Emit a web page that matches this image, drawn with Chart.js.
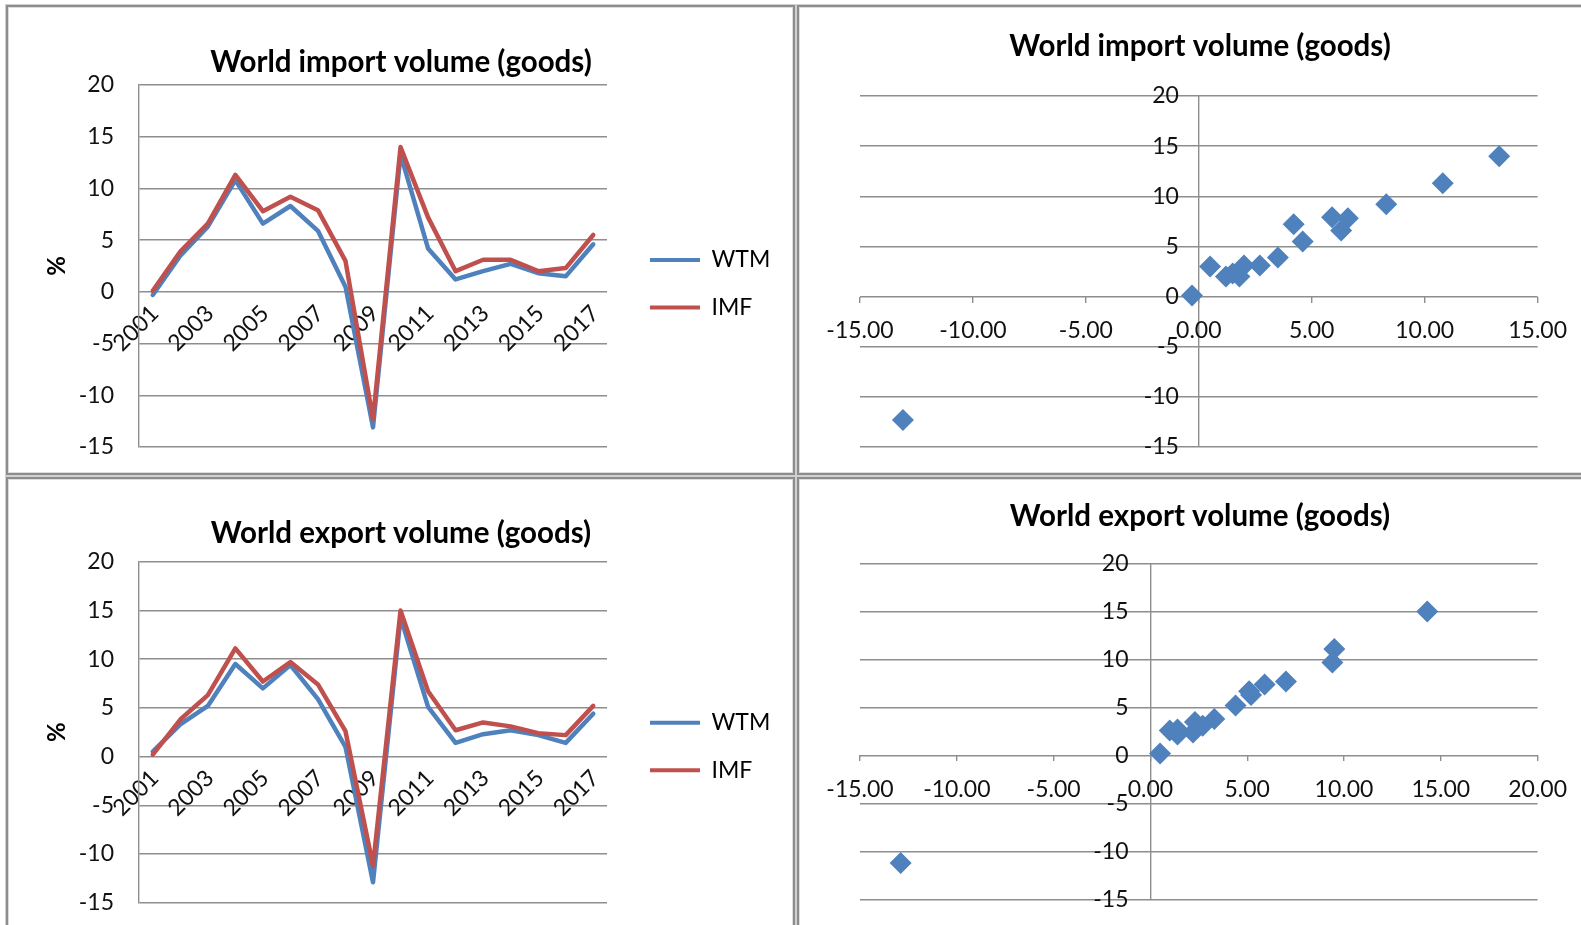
<!DOCTYPE html>
<html>
<head>
<meta charset="utf-8">
<title>World trade volume: WTM vs IMF</title>
<script src="https://cdn.jsdelivr.net/npm/chart.js@4.4.1/dist/chart.umd.min.js"></script>
<style>
  html, body { margin: 0; padding: 0; background: #fff; overflow: hidden; }
  body { width: 1581px; height: 925px; position: relative; }
  .panel { position: absolute; box-sizing: border-box; border: 2px solid #8d8d8d; box-shadow: inset 0 0 0 1px #dcdcdc, 0 0 0 1px #d0d0d0; background: #fff; }
  canvas { position: absolute; z-index: 2; }
</style>
</head>
<body>
<div class="panel" style="left:6px;top:5px;width:789px;height:470px"></div>
<div class="panel" style="left:797px;top:5px;width:900px;height:470px"></div>
<div class="panel" style="left:6px;top:477px;width:789px;height:600px"></div>
<div class="panel" style="left:797px;top:477px;width:900px;height:600px"></div>

<canvas id="importLine" width="784" height="466" style="left:9px;top:7px"></canvas>
<canvas id="importScatter" width="782" height="466" style="left:799px;top:7px"></canvas>
<canvas id="exportLine" width="784" height="446" style="left:9px;top:479px"></canvas>
<canvas id="exportScatter" width="782" height="446" style="left:799px;top:479px"></canvas>

<script>
// Annual growth, %, 2001-2017
const years = ['2001', '2002', '2003', '2004', '2005', '2006', '2007', '2008', '2009',
               '2010', '2011', '2012', '2013', '2014', '2015', '2016', '2017'];

const importWTM = [-0.3, 3.5, 6.3, 10.8, 6.6, 8.3, 5.9, 0.5, -13.1, 13.3, 4.2, 1.2, 2.0, 2.7, 1.8, 1.5, 4.6];
const importIMF = [0.1, 3.9, 6.6, 11.3, 7.8, 9.2, 7.9, 3.0, -12.3, 14.0, 7.2, 2.0, 3.1, 3.1, 2.0, 2.3, 5.5];

const exportWTM = [0.5, 3.3, 5.2, 9.5, 7.0, 9.4, 5.9, 1.0, -12.9, 14.3, 5.1, 1.4, 2.3, 2.7, 2.2, 1.4, 4.4];
const exportIMF = [0.2, 3.8, 6.3, 11.1, 7.7, 9.7, 7.4, 2.6, -11.2, 15.0, 6.7, 2.7, 3.5, 3.1, 2.4, 2.2, 5.2];

// Axis ranges
const pctMin = -15, pctMax = 20, pctStep = 5;
const importXMax = 15;
const exportXMax = 20;

const seriesNames = ['WTM', 'IMF'];

// Styling
const FAMILY = 'Lato, "Liberation Sans", Arial, sans-serif';
const BLUE = '#4F81BD';
const RED = '#C0504D';
const GRID = '#8e8e8e';
const TEXT = '#111';
const TICK_SIZE = 23;
const TITLE_SIZE = 29.5;
const LEGEND = { size: 23, box: 50, padding: 24.5, gap: 18.5 };

Chart.defaults.font.family = FAMILY;
Chart.defaults.color = TEXT;

function textWidth(str, font) {
  const ctx = document.createElement('canvas').getContext('2d');
  ctx.font = font;
  return ctx.measureText(str).width;
}

// Width the built-in vertical legend takes for our two entries
const legendWidth = LEGEND.padding + LEGEND.box + LEGEND.size / 2 + 10 +
  Math.max(...seriesNames.map((s) => textWidth(s, LEGEND.size + 'px ' + FAMILY)));

function titleOpts(text, top, bottom) {
  return {
    display: true, text: text, color: '#000',
    font: { family: FAMILY, size: TITLE_SIZE, weight: 'bold' },
    padding: { top: top, bottom: bottom }
  };
}

function lineChart(id, title, wtm, imf, g) {
  const canvas = document.getElementById(id);
  // keep the title centred on the canvas: equal side paddings
  const side = canvas.width - g.plotRight - LEGEND.gap - legendWidth;
  return new Chart(canvas, {
    type: 'line',
    data: {
      labels: years,
      datasets: [
        { label: seriesNames[0], data: wtm, borderColor: BLUE, backgroundColor: BLUE, borderWidth: 4.5,
          pointRadius: 0, tension: 0, order: 1, yAxisID: 'y', borderJoinStyle: 'round', borderCapStyle: 'round' },
        { label: seriesNames[1], data: imf, borderColor: RED, backgroundColor: RED, borderWidth: 4.5,
          pointRadius: 0, tension: 0, order: 0, yAxisID: 'y', borderJoinStyle: 'round', borderCapStyle: 'round' }
      ]
    },
    options: {
      responsive: false, animation: false, devicePixelRatio: 1,
      layout: { padding: { top: 0, left: side, right: side, bottom: g.padBottom } },
      plugins: {
        tooltip: { enabled: false },
        title: titleOpts(title, g.titleTop, g.titleBottom),
        legend: {
          position: 'right', fullSize: false, align: 'center', maxWidth: 400,
          title: { display: true, text: '', font: { size: 12 }, padding: { top: g.legendShift, bottom: 0 } },
          labels: {
            boxWidth: LEGEND.box, boxHeight: 4, padding: LEGEND.padding, color: '#000',
            font: { family: FAMILY, size: LEGEND.size },
            generateLabels: (chart) => chart.data.datasets.map((ds, i) => ({
              text: ds.label, fillStyle: ds.borderColor, strokeStyle: ds.borderColor,
              lineWidth: 0, hidden: false, datasetIndex: i, fontColor: '#000'
            }))
          }
        }
      },
      scales: {
        x: {
          type: 'category', offset: true, position: { y: 0 },
          grid: { display: false, drawTicks: false },
          border: { display: false },
          ticks: {
            autoSkip: false, minRotation: 45, maxRotation: 45, padding: 8, labelOffset: 2, color: TEXT,
            font: { family: FAMILY, size: TICK_SIZE },
            callback: (value, index) => (index % 2 === 0 ? years[index] : '')
          }
        },
        y: {
          min: pctMin, max: pctMax,
          ticks: { stepSize: pctStep, padding: 0, color: TEXT, font: { family: FAMILY, size: TICK_SIZE } },
          grid: { color: GRID, lineWidth: 1.4, drawTicks: true, tickLength: 25, tickColor: 'rgba(0,0,0,0)' },
          border: { display: true, color: GRID, width: 1.4 },
          title: {
            display: true, text: '%', color: '#000',
            font: { family: FAMILY, size: 24, weight: 'bold' },
            padding: { top: g.pctCenter - side - 14.4, bottom: 0 }
          },
          afterFit: (s) => { s.width = g.plotLeft - side; }
        },
        legendGap: {
          type: 'linear', axis: 'y', position: 'right', display: true,
          grid: { display: false, drawTicks: false }, border: { display: false }, ticks: { display: false },
          afterFit: (s) => { s.width = LEGEND.gap; }
        }
      }
    }
  });
}

function scatterChart(id, title, xs, ys, xMax, g) {
  const points = xs.map((x, i) => ({ x: x, y: ys[i] }));
  const plotWidth = 680;
  // value-axis labels sit a little left of the vertical zero line
  const labelAnchor = -g.labelGap * (xMax - pctMin) / plotWidth;
  return new Chart(document.getElementById(id), {
    type: 'scatter',
    data: {
      datasets: [{
        data: points, pointStyle: 'rectRot', pointRadius: 11, pointHoverRadius: 11,
        backgroundColor: BLUE, borderColor: '#4A7EBB', borderWidth: 0
      }]
    },
    options: {
      responsive: false, animation: false, devicePixelRatio: 1,
      layout: { padding: { top: 0, left: 61, right: 41, bottom: g.padBottom } },
      plugins: {
        tooltip: { enabled: false },
        legend: { display: false },
        title: titleOpts(title, g.titleTop, g.titleBottom)
      },
      scales: {
        x: {
          type: 'linear', min: pctMin, max: xMax, position: { y: 0 },
          grid: {
            drawOnChartArea: true, drawTicks: true, tickLength: 6, lineWidth: 1.4, tickColor: GRID,
            color: (c) => (c.tick && c.tick.value === 0 ? GRID : 'rgba(0,0,0,0)')
          },
          border: { display: false },
          ticks: {
            stepSize: pctStep, autoSkip: false, maxRotation: 0, padding: 14, color: TEXT,
            font: { family: FAMILY, size: TICK_SIZE },
            callback: (v) => Number(v).toFixed(2)
          }
        },
        y: {
          min: pctMin, max: pctMax, position: { x: labelAnchor },
          grid: { color: GRID, lineWidth: 1.4, drawTicks: false },
          border: { display: false },
          ticks: { stepSize: pctStep, padding: 0, color: TEXT, font: { family: FAMILY, size: TICK_SIZE } }
        }
      }
    }
  });
}

lineChart('importLine', 'World import volume (goods)', importWTM, importIMF,
  { plotLeft: 130, plotRight: 598, pctCenter: 48, padBottom: 26,
    titleTop: 37.8, titleBottom: 4.8, legendShift: 21.1 });

lineChart('exportLine', 'World export volume (goods)', exportWTM, exportIMF,
  { plotLeft: 130, plotRight: 598, pctCenter: 48, padBottom: 22.3,
    titleTop: 36.3, titleBottom: 11, legendShift: 14.2 });

scatterChart('importScatter', 'World import volume (goods)', importWTM, importIMF, importXMax,
  { padBottom: 26, titleTop: 21.7, titleBottom: 31.9, labelGap: 20 });

scatterChart('exportScatter', 'World export volume (goods)', exportWTM, exportIMF, exportXMax,
  { padBottom: 25.6, titleTop: 19.3, titleBottom: 29.9, labelGap: 22 });
</script>
</body>
</html>
